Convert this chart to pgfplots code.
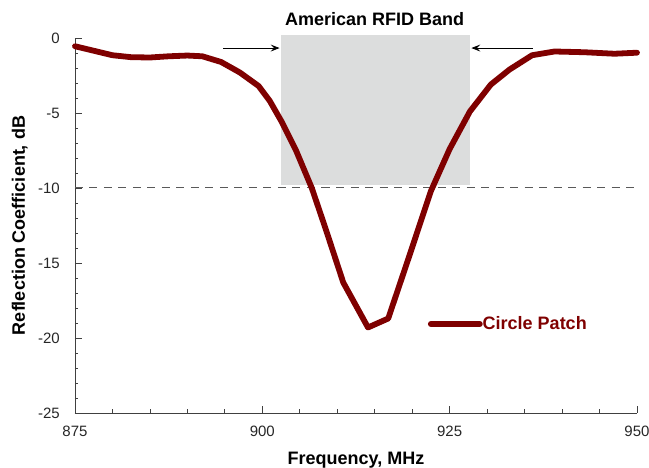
\documentclass[border=0pt]{standalone}
\usepackage{fontspec}
\setmainfont{Liberation Sans}
\usepackage{pgfplots}
\pgfplotsset{compat=1.18}
\usetikzlibrary{arrows.meta}

\definecolor{curve}{HTML}{7F0000}
\definecolor{band}{HTML}{DCDDDD}
\definecolor{axisgray}{HTML}{404040}

\begin{document}
\begin{tikzpicture}
\useasboundingbox (-75pt,-55pt) rectangle (574pt,413pt);
\begin{axis}[
  at={(0,0)}, anchor=south west,
  scale only axis, width=562pt, height=375pt,
  xmin=875, xmax=950, ymin=-25, ymax=0,
  axis x line=bottom, axis y line=left,
  axis line style={-, draw=axisgray, line width=0.8pt},
  xtick={875,900,925,950}, ytick={-25,-20,-15,-10,-5,0},
  minor x tick num=4, minor y tick num=4,
  tick align=inside,
  major tick length=7pt, minor tick length=3.5pt,
  tick style={draw=axisgray, line width=0.8pt},
  /pgf/number format/assume math mode=true,
  ticklabel style={font=\fontsize{15}{18}\selectfont, inner sep=0pt, text=black!85},
  xticklabel shift=13pt, yticklabel shift=15pt,
  every axis x label/.style={at={(axis description cs:0.5,0)}, anchor=base, yshift=-52pt, inner sep=0pt},
  every axis y label/.style={at={(axis description cs:0,0.5)}, rotate=90, anchor=base, yshift=50pt, inner sep=0pt},
  label style={font=\fontsize{18}{21}\selectfont\bfseries},
  xlabel={Frequency, MHz},
  ylabel={Reflection Coefficient, dB},
  clip=false,
  legend style={at={(axis cs:922.1,-19.07)}, anchor=west, draw=none, fill=none,
    inner sep=0pt, outer sep=0pt,
    nodes={inner sep=0pt, text=curve, font=\fontsize{18}{21}\selectfont\bfseries}},
  /tikz/every even column/.append style={column sep=5pt},
  legend image code/.code={\draw[#1] (0pt,0pt) -- (49pt,0pt);},
]
% RFID band 902-928 MHz
\fill[band] (axis cs:902.5,-9.8) rectangle (axis cs:927.7,0.2);
% -10 dB threshold
\draw[draw=black!65, line width=1pt, dash pattern=on 8pt off 6.5pt] (axis cs:875,-10) -- (axis cs:950,-10);
% band edge arrows
\draw[-{Stealth[length=9pt,width=7pt,inset=3.5pt]}, line width=0.8pt] (axis cs:894.8,-0.67) -- (axis cs:902.3,-0.67);
\draw[-{Stealth[length=9pt,width=7pt,inset=3.5pt]}, line width=0.8pt] (axis cs:936.1,-0.67) -- (axis cs:927.9,-0.67);
\node[font=\fontsize{18}{21}\selectfont\bfseries, anchor=base, inner sep=0pt] at (axis cs:915,0.8) {American RFID Band};

\addplot[draw=curve, line width=5.8pt, line join=round, line cap=round] coordinates {
  (875,-0.55) (877.5,-0.85) (880,-1.15) (882.5,-1.28) (885,-1.3) (887.5,-1.22)
  (890,-1.17) (892,-1.22) (894.5,-1.6) (897,-2.3) (899.5,-3.2) (901,-4.2)
  (902.6,-5.6) (904.5,-7.5) (906.6,-10.0) (908.5,-12.8) (910.8,-16.3)
  (914.1,-19.3) (916.8,-18.7) (919.5,-14.7) (922.5,-10.2) (925,-7.4)
  (927.7,-4.9) (930.5,-3.1) (933,-2.1) (936,-1.15) (939,-0.9) (943,-0.95)
  (947,-1.05) (950,-0.98)
};
\addlegendentry{Circle Patch}
\end{axis}
\end{tikzpicture}
\end{document}
